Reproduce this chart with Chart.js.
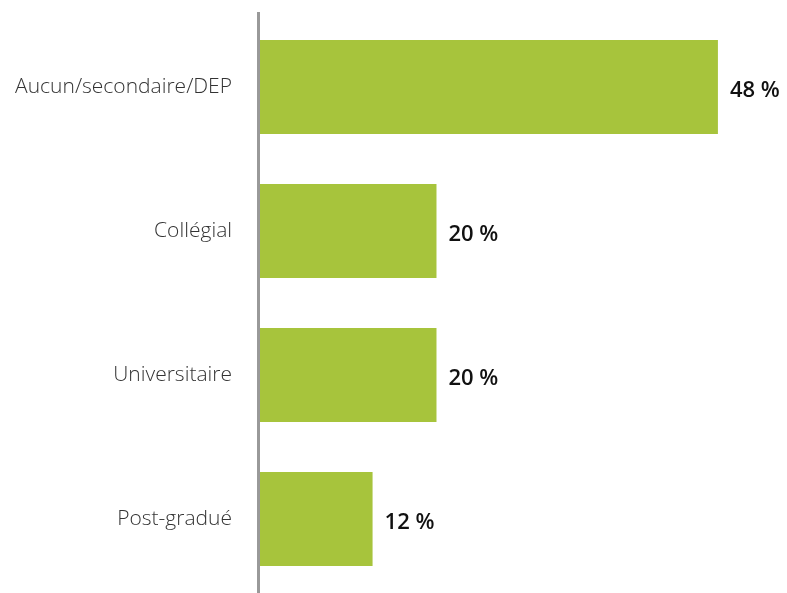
<!DOCTYPE html>
<html>
<head>
<meta charset="utf-8">
<script src="https://cdn.jsdelivr.net/npm/chart.js@4"></script>
<style>
  html, body { margin: 0; padding: 0; background: #fff; }
  #wrap { width: 787px; height: 593px; }
</style>
</head>
<body>
<div id="wrap"><canvas id="eduChart"></canvas></div>
<script>
const categories = ['Aucun/secondaire/DEP', 'Collégial', 'Universitaire', 'Post-gradué'];
const barValues = [48, 18.5, 18.5, 11.8];
const valueLabels = ['48 %', '20 %', '20 %', '12 %'];

// étiquettes de valeur au bout des barres + ligne d'axe verticale
const endLabels = {
    id: 'endLabels',
    afterDatasetsDraw(chart) {
        const ctx = chart.ctx;
        const meta = chart.getDatasetMeta(0);
        ctx.save();
        ctx.font = '600 22px "Open Sans"';
        ctx.fillStyle = '#111';
        ctx.textBaseline = 'middle';
        ctx.textAlign = 'left';
        meta.data.forEach((bar, i) => {
            ctx.fillText(valueLabels[i], bar.x + 12, bar.y + 4);
        });
        const area = chart.chartArea;
        ctx.strokeStyle = '#999';
        ctx.lineWidth = 3;
        ctx.beginPath();
        ctx.moveTo(area.left - 1.5, area.top - 3);
        ctx.lineTo(area.left - 1.5, area.bottom + 3);
        ctx.stroke();
        ctx.restore();
    }
};

new Chart(document.getElementById('eduChart'), {
    type: 'bar',
    data: {
        labels: categories,
        datasets: [{
            data: barValues,
            backgroundColor: '#a7c43c',
            borderWidth: 0,
            barPercentage: 0.653,
            categoryPercentage: 1
        }]
    },
    options: {
        indexAxis: 'y',
        responsive: true,
        maintainAspectRatio: false,
        animation: false,
        layout: { padding: { left: 0, right: 50, top: 15, bottom: 2 } },
        scales: {
            x: {
                display: false,
                min: 0,
                max: 50
            },
            y: {
                grid: { display: false, drawTicks: false },
                border: { display: false },
                ticks: {
                    color: '#333',
                    padding: 28,
                    font: { family: 'Open Sans', size: 21, weight: 300 }
                },
                afterFit: scale => {
                    scale.width = 260;
                    scale.paddingTop = 0;
                    scale.paddingBottom = 0;
                }
            }
        },
        plugins: {
            legend: { display: false },
            tooltip: { enabled: false }
        }
    },
    plugins: [endLabels]
});
</script>
</body>
</html>
